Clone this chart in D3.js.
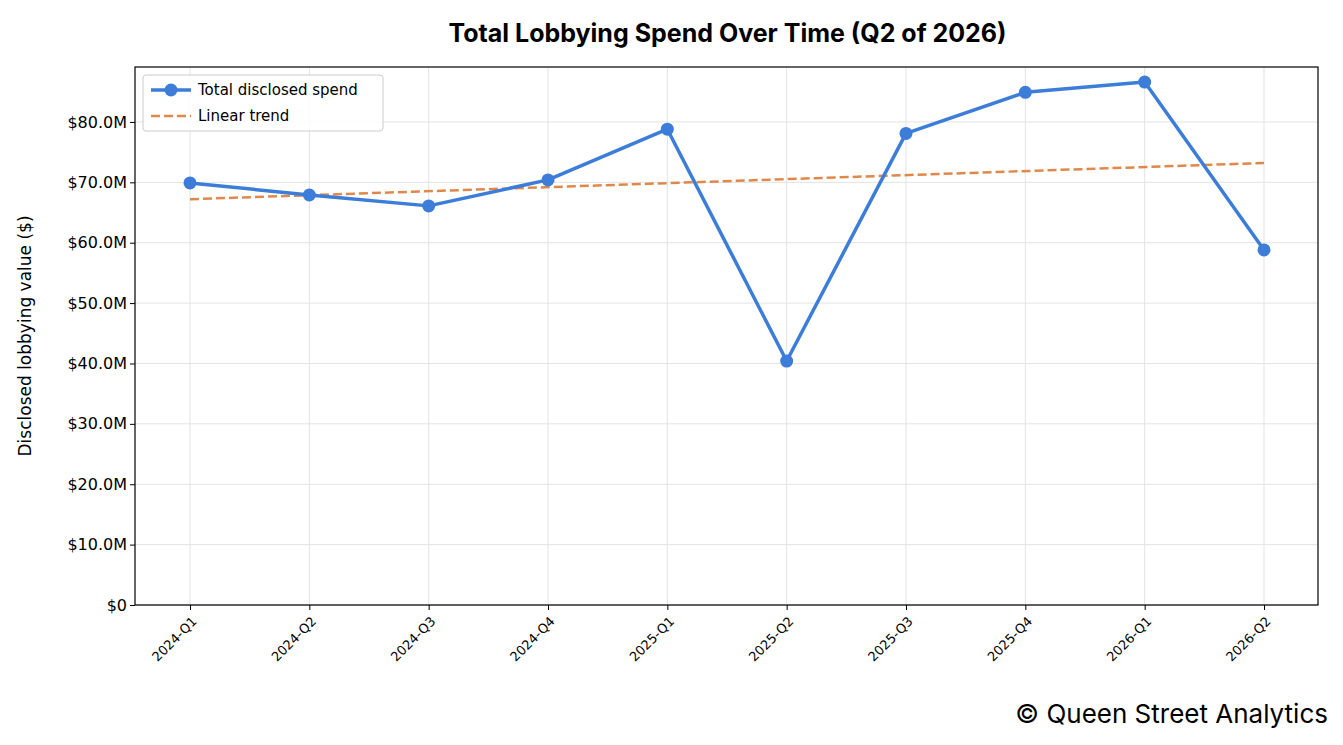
<!DOCTYPE html>
<html>
<head>
<meta charset="utf-8">
<script src="https://cdn.jsdelivr.net/npm/d3@7/dist/d3.min.js"></script>
<style>
  body { margin: 0; background: #fff; }
  text { font-family: "DejaVu Sans", sans-serif; }
</style>
</head>
<body>
<svg id="chart" width="1343" height="745"></svg>
<script>
// data
var quarters = ["2024-Q1","2024-Q2","2024-Q3","2024-Q4","2025-Q1","2025-Q2","2025-Q3","2025-Q4","2026-Q1","2026-Q2"];
var spend = [69.9, 67.9, 66.1, 70.4, 78.8, 40.4, 78.1, 84.9, 86.6, 58.8];
var trendStart = 67.2, trendEnd = 73.2;
var yTicks = [0, 10, 20, 30, 40, 50, 60, 70, 80];

var svg = d3.select("#chart");
var plotL = 135, plotR = 1318, plotT = 67, plotB = 605;

var x = d3.scalePoint().domain(quarters).range([190, 1264]);
var y = d3.scaleLinear().domain([0, 89.1]).range([plotB, plotT]);

var fmt = function (v) { return v === 0 ? "$0" : "$" + v.toFixed(1) + "M"; };

// grid
svg.append("g").selectAll("line").data(quarters).join("line")
    .attr("x1", d => x(d)).attr("x2", d => x(d))
    .attr("y1", plotT).attr("y2", plotB)
    .attr("stroke", "#e3e3e3").attr("stroke-width", 1);
svg.append("g").selectAll("line").data(yTicks).join("line")
    .attr("x1", plotL).attr("x2", plotR)
    .attr("y1", d => y(d)).attr("y2", d => y(d))
    .attr("stroke", "#e3e3e3").attr("stroke-width", 1);

// axes
var yAxis = svg.append("g").attr("transform", "translate(" + plotL + ",0)")
    .call(d3.axisLeft(y).tickValues(yTicks).tickFormat(fmt).tickSize(5).tickSizeOuter(0));
yAxis.select(".domain").remove();
yAxis.selectAll("text").attr("font-size", 16).attr("fill", "#000")
    .attr("font-family", "DejaVu Sans");

var xAxis = svg.append("g").attr("transform", "translate(0," + plotB + ")")
    .call(d3.axisBottom(x).tickSize(5).tickSizeOuter(0));
xAxis.select(".domain").remove();
xAxis.selectAll("text").attr("font-size", 13).attr("fill", "#000")
    .attr("font-family", "DejaVu Sans")
    .attr("text-anchor", "end")
    .attr("x", 0).attr("y", 0).attr("dx", 0).attr("dy", "0.35em")
    .attr("transform", "translate(4,14) rotate(-45)");

svg.append("rect").attr("x", plotL).attr("y", plotT)
    .attr("width", plotR - plotL).attr("height", plotB - plotT)
    .attr("fill", "none").attr("stroke", "#000").attr("stroke-width", 1.2);

// trend
svg.append("line")
    .attr("x1", x(quarters[0])).attr("y1", y(trendStart))
    .attr("x2", x(quarters[quarters.length - 1])).attr("y2", y(trendEnd))
    .attr("stroke", "#e0884a").attr("stroke-width", 2.5).attr("stroke-dasharray", "9,4");

// line
var line = d3.line().x((d, i) => x(quarters[i])).y(d => y(d));
svg.append("path").datum(spend).attr("d", line)
    .attr("fill", "none").attr("stroke", "#3b7dd8").attr("stroke-width", 3.5)
    .attr("stroke-linejoin", "round");
svg.append("g").selectAll("circle").data(spend).join("circle")
    .attr("cx", (d, i) => x(quarters[i])).attr("cy", d => y(d)).attr("r", 6.5)
    .attr("fill", "#3b7dd8");

// legend
var lg = svg.append("g").attr("transform", "translate(143,75)");
lg.append("rect").attr("width", 240).attr("height", 56).attr("rx", 3)
    .attr("fill", "#fff").attr("fill-opacity", 0.85).attr("stroke", "#ccc");
lg.append("line").attr("x1", 8).attr("x2", 48).attr("y1", 15).attr("y2", 15)
    .attr("stroke", "#3b7dd8").attr("stroke-width", 3.5);
lg.append("circle").attr("cx", 28).attr("cy", 15).attr("r", 6.5).attr("fill", "#3b7dd8");
lg.append("text").attr("x", 55).attr("y", 20).attr("font-size", 15).text("Total disclosed spend");
lg.append("line").attr("x1", 8).attr("x2", 48).attr("y1", 41).attr("y2", 41)
    .attr("stroke", "#e0884a").attr("stroke-width", 2.5).attr("stroke-dasharray", "9,4");
lg.append("text").attr("x", 55).attr("y", 46).attr("font-size", 15).text("Linear trend");

// titles
svg.append("text").attr("x", (plotL + plotR) / 2 + 1).attr("y", 42).attr("text-anchor", "middle")
    .style("font-family", "Inter, sans-serif").attr("font-weight", "bold").attr("font-size", 25)
    .text("Total Lobbying Spend Over Time (Q2 of 2026)");
svg.append("text").attr("transform", "translate(31," + ((plotT + plotB) / 2) + ") rotate(-90)")
    .attr("text-anchor", "middle").attr("font-size", 17).text("Disclosed lobbying value ($)");
svg.append("text").attr("x", 1328).attr("y", 723).attr("text-anchor", "end")
    .style("font-family", "Inter, sans-serif").attr("font-size", 26)
    .text("© Queen Street Analytics");
</script>
</body>
</html>
